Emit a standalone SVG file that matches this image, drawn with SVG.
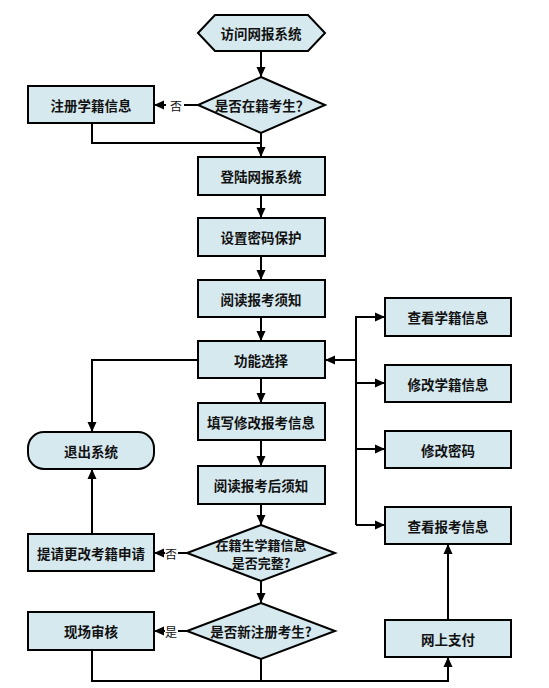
<svg xmlns="http://www.w3.org/2000/svg" width="549" height="688" viewBox="0 0 549 688">
<defs>
<marker id="ah" markerUnits="userSpaceOnUse" markerWidth="10" markerHeight="10" refX="10" refY="5" orient="auto">
<path d="M0,0.5 L10,5 L0,9.5 z" fill="#000"/>
</marker>
<style>
.n{fill:#D6E9EF;stroke:#000;stroke-width:2}
.t{font-family:"Noto Sans CJK SC","Noto Sans CJK JP",sans-serif;font-size:13.5px;font-weight:bold;fill:#111;text-anchor:middle;dominant-baseline:central}
.s{font-size:13px}
.l{font-family:"Noto Sans CJK SC","Noto Sans CJK JP",sans-serif;font-size:12px;fill:#111;text-anchor:middle;dominant-baseline:central}
.c{fill:none;stroke:#000;stroke-width:2}
.a{fill:none;stroke:#000;stroke-width:2;marker-end:url(#ah)}
</style>
</defs>
<rect width="549" height="688" fill="#fff"/>
<g id="connectors">
<path class="a" d="M261,51 V77"/>
<path class="c" d="M198,105 H184"/>
<path class="a" d="M166,105 H154"/>
<path class="c" d="M92,123 V143 H261"/>
<path class="a" d="M261,133 V157"/>
<path class="a" d="M261,195 V218"/>
<path class="a" d="M261,256 V280"/>
<path class="a" d="M261,317 V341"/>
<path class="a" d="M261,378 V403"/>
<path class="a" d="M261,440 V466"/>
<path class="a" d="M261,504 V525"/>
<path class="a" d="M261,581 V603"/>
<path class="c" d="M261,659 V681"/>
<path class="a" d="M198,360 H92 V432"/>
<path class="a" d="M92,534 V469"/>
<path class="c" d="M187,553 H178"/>
<path class="a" d="M165,553 H154"/>
<path class="c" d="M187,631 H178"/>
<path class="a" d="M165,631 H154"/>
<path class="a" d="M92,650 V681 H448 V657"/>
<path class="a" d="M448,620 V544"/>
<path class="a" d="M356,360 H325"/>
<path class="c" d="M385,317 H356 V525"/>
<path class="a" d="M356,317 H385"/>
<path class="a" d="M356,383 H385"/>
<path class="a" d="M356,449 H385"/>
<path class="a" d="M356,525 H385"/>
<text class="l" x="176" y="105">否</text>
<text class="l" x="171" y="553">否</text>
<text class="l" x="171" y="631">是</text>
</g>
<g id="start"><polygon class="n" points="198,33 215,15 308,15 325,33 308,51 215,51"/><text class="t" x="261" y="33">访问网报系统</text></g>
<g id="d1"><polygon class="n" points="261,77 325,105 261,133 198,105"/><text class="t" x="262" y="105">是否在籍考生？</text></g>
<g id="register"><rect class="n" x="28" y="86" width="126" height="37"/><text class="t" x="91" y="104.5">注册学籍信息</text></g>
<g id="login"><rect class="n" x="198" y="157" width="127" height="38"/><text class="t" x="261" y="176">登陆网报系统</text></g>
<g id="pwd"><rect class="n" x="198" y="218" width="127" height="38"/><text class="t" x="261" y="237">设置密码保护</text></g>
<g id="notice"><rect class="n" x="198" y="280" width="127" height="37"/><text class="t" x="261" y="298.5">阅读报考须知</text></g>
<g id="func"><rect class="n" x="198" y="341" width="127" height="37"/><text class="t" x="261" y="359.5">功能选择</text></g>
<g id="fill"><rect class="n" x="198" y="403" width="127" height="37"/><text class="t" x="261" y="421.5">填写修改报考信息</text></g>
<g id="after"><rect class="n" x="198" y="466" width="127" height="38"/><text class="t" x="261" y="485">阅读报考后须知</text></g>
<g id="d2"><polygon class="n" points="261,525 335,553 261,581 187,553"/><text class="t s" x="261" y="544">在籍生学籍信息</text><text class="t s" x="261" y="562">是否完整?</text></g>
<g id="d3"><polygon class="n" points="261,603 335,631 261,659 187,631"/><text class="t" x="261" y="631">是否新注册考生?</text></g>
<g id="exit"><rect class="n" x="28" y="432" width="126" height="37" rx="16" ry="16"/><text class="t" x="91" y="450.5">退出系统</text></g>
<g id="apply"><rect class="n" x="28" y="534" width="126" height="37"/><text class="t" x="91" y="552.5">提请更改考籍申请</text></g>
<g id="audit"><rect class="n" x="28" y="612" width="126" height="38"/><text class="t" x="91" y="631">现场审核</text></g>
<g id="pay"><rect class="n" x="385" y="620" width="126" height="37"/><text class="t" x="448" y="638.5">网上支付</text></g>
<g id="viewapp"><rect class="n" x="385" y="507" width="126" height="37"/><text class="t" x="448" y="525.5">查看报考信息</text></g>
<g id="chpwd"><rect class="n" x="385" y="431" width="126" height="37"/><text class="t" x="448" y="449.5">修改密码</text></g>
<g id="edit"><rect class="n" x="385" y="365" width="126" height="37"/><text class="t" x="448" y="383.5">修改学籍信息</text></g>
<g id="view"><rect class="n" x="385" y="298" width="126" height="38"/><text class="t" x="448" y="317">查看学籍信息</text></g>
</svg>
